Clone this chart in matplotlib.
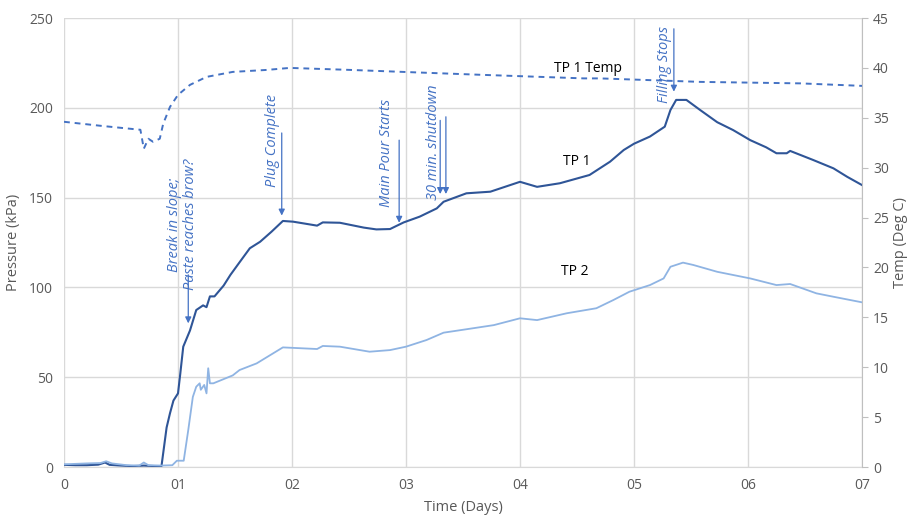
import matplotlib.pyplot as plt

plt.rcParams['font.family'] = ['Open Sans', 'DejaVu Sans']

# TP 1 pressure (kPa) vs time (days)
tp1_days = [0.0, 0.1, 0.2, 0.3, 0.36, 0.4, 0.5, 0.6, 0.7, 0.8, 0.855, 0.90, 0.93, 0.96, 1.0, 1.02,
            1.046, 1.105, 1.16, 1.22, 1.25, 1.28, 1.32, 1.40, 1.46, 1.54, 1.63, 1.72, 1.82, 1.92,
            2.01, 2.22, 2.27, 2.42, 2.63, 2.74, 2.86, 2.98, 3.12, 3.27, 3.33, 3.53, 3.74, 4.0,
            4.15, 4.35, 4.61, 4.79, 4.91, 5.0, 5.14, 5.27, 5.32, 5.37, 5.46, 5.58, 5.73, 5.87,
            6.02, 6.16, 6.25, 6.34, 6.37, 6.57, 6.75, 6.87, 7.0]
tp1_kpa = [1.2, 1.0, 1.0, 1.3, 2.5, 1.2, 0.8, 0.5, 0.8, 0.5, 0.5, 22, 30, 37, 41, 52,
           67, 76, 87.4, 90, 89, 95, 95, 101, 107, 114, 121.8, 125.4, 131, 137,
           136.6, 134.4, 136.2, 136, 133.3, 132.3, 132.5, 136.2, 139.4, 144, 147.7, 152.4, 153.3, 158.8,
           156, 158, 162.6, 170, 176.5, 180, 184, 189.5, 198.8, 204.4, 204.4, 198.8, 192, 187.6,
           182, 178, 174.7, 174.7, 176, 171, 166.3, 161.6, 157]

# TP 2 pressure (kPa)
tp2_days = [0.0, 0.2, 0.32, 0.37, 0.42, 0.55, 0.66, 0.70, 0.74, 0.855, 0.95, 0.99, 1.05, 1.09,
            1.13, 1.16, 1.19, 1.2, 1.23, 1.25, 1.265, 1.28, 1.31, 1.48, 1.54, 1.69, 1.92, 2.22,
            2.27, 2.42, 2.68, 2.86, 3.0, 3.18, 3.33, 3.53, 3.77, 4.0, 4.15, 4.41, 4.67, 4.82,
            4.96, 5.14, 5.26, 5.32, 5.43, 5.52, 5.73, 6.02, 6.25, 6.37, 6.6, 6.75, 7.0]
tp2_kpa = [1.5, 2.0, 2.2, 3.2, 2.0, 1.0, 0.8, 2.5, 1.0, 0.8, 1.0, 3.5, 3.5, 20.6,
           39, 44.7, 46.6, 43, 45.7, 41, 55, 46.6, 46.6, 51, 54, 57.7, 66.6, 65.7,
           67.4, 67, 64.2, 65.1, 67, 70.7, 74.8, 76.7, 79, 82.8, 81.8, 85.6, 88.4, 93,
           97.6, 101.3, 105, 111.5, 113.8, 112.5, 108.7, 105, 101.3, 101.9, 96.7, 94.8, 91.7]

# TP 1 temperature (deg C)
temp_days = [0.0, 0.32, 0.67, 0.70, 0.74, 0.78, 0.84, 0.87, 0.93, 1.0, 1.105, 1.25, 1.48,
             1.78, 1.98, 2.51, 3.09, 3.68, 4.56, 4.70, 5.58, 6.46, 7.0]
temp_c = [34.6, 34.2, 33.8, 31.9, 32.9, 32.6, 32.9, 34.4, 36.1, 37.3, 38.3, 39.1, 39.6,
          39.8, 40.0, 39.8, 39.55, 39.3, 38.95, 38.95, 38.6, 38.45, 38.2]

day_ticks = [0, 1, 2, 3, 4, 5, 6, 7]
day_labels = ["0", "01", "02", "03", "04", "05", "06", "07"]

# event notes: text, text x, text y centre, arrow x, arrow top, arrow tip
notes = [
    ("Break in slope;\nPaste reaches brow?", 1.04, 135, 1.09, 107, 80),
    ("Plug Complete", 1.83, 182, 1.91, 186, 140),
    ("Main Pour Starts", 2.83, 175, 2.94, 182, 136),
    ("30 min. shutdown", 3.24, 181, 3.30, 193, 152),
    ("Filling Stops", 5.27, 224, 5.35, 244, 209),
]
extra_arrow = (3.35, 195, 152)

blue = "#4472C4"
dark = "#2F5597"
light = "#8FB4E3"
grid = "#D9D9D9"
tick_col = "#595959"

fig = plt.figure(figsize=(9.08, 5.15), dpi=100)
ax = fig.add_axes([0.0705, 0.0932, 0.8788, 0.8718])

ax.plot(tp1_days, tp1_kpa, color=dark, lw=1.5, zorder=3)
ax.plot(tp2_days, tp2_kpa, color=light, lw=1.3, zorder=3)

ax.set_xlim(0, 7)
ax.set_ylim(0, 250)
ax.set_xticks(day_ticks)
ax.set_xticklabels(day_labels)
ax.set_yticks(range(0, 251, 50))
ax.grid(True, color=grid, lw=1)
ax.set_axisbelow(True)
for s in ["top", "left", "right"]:
    ax.spines[s].set_visible(False)
ax.spines["bottom"].set_color(grid)
ax.tick_params(axis="both", length=0, colors=tick_col, labelsize=10, pad=8)
ax.set_xlabel("Time (Days)", color=tick_col, fontsize=10.5, labelpad=5)
ax.set_ylabel("Pressure (kPa)", color=tick_col, fontsize=10.5, labelpad=6)

ax2 = ax.twinx()
ax2.plot(temp_days, temp_c, color=blue, lw=1.4, ls=(0, (3, 2.5)), zorder=3)
ax2.set_ylim(0, 45)
ax2.set_yticks(range(0, 46, 5))
for s in ["top", "left", "bottom"]:
    ax2.spines[s].set_visible(False)
ax2.spines["right"].set_color("#BFBFBF")
ax2.tick_params(axis="y", length=4, color="#BFBFBF", colors=tick_col, labelsize=10, pad=4)
ax2.set_ylabel("Temp (Deg C)", color=tick_col, fontsize=10.5, labelpad=3)

ax.text(4.6, 222, "TP 1 Temp", fontsize=10, ha="center", va="center")
ax.text(4.5, 170, "TP 1", fontsize=10, ha="center", va="center")
ax.text(4.48, 109, "TP 2", fontsize=10, ha="center", va="center")

for text, tx, ty, axx, top, tip in notes:
    ax.text(tx, ty, text, rotation=90, style="italic", color=blue, fontsize=10.5,
            ha="center", va="center", linespacing=1.1)
    ax.annotate("", xy=(axx, tip), xytext=(axx, top),
                arrowprops=dict(arrowstyle="-|>", color=blue, lw=0.9,
                                mutation_scale=9, shrinkA=0, shrinkB=0))
ax.annotate("", xy=(extra_arrow[0], extra_arrow[2]), xytext=(extra_arrow[0], extra_arrow[1]),
            arrowprops=dict(arrowstyle="-|>", color=blue, lw=0.9,
                            mutation_scale=9, shrinkA=0, shrinkB=0))

fig.savefig("out.png", dpi=100)
